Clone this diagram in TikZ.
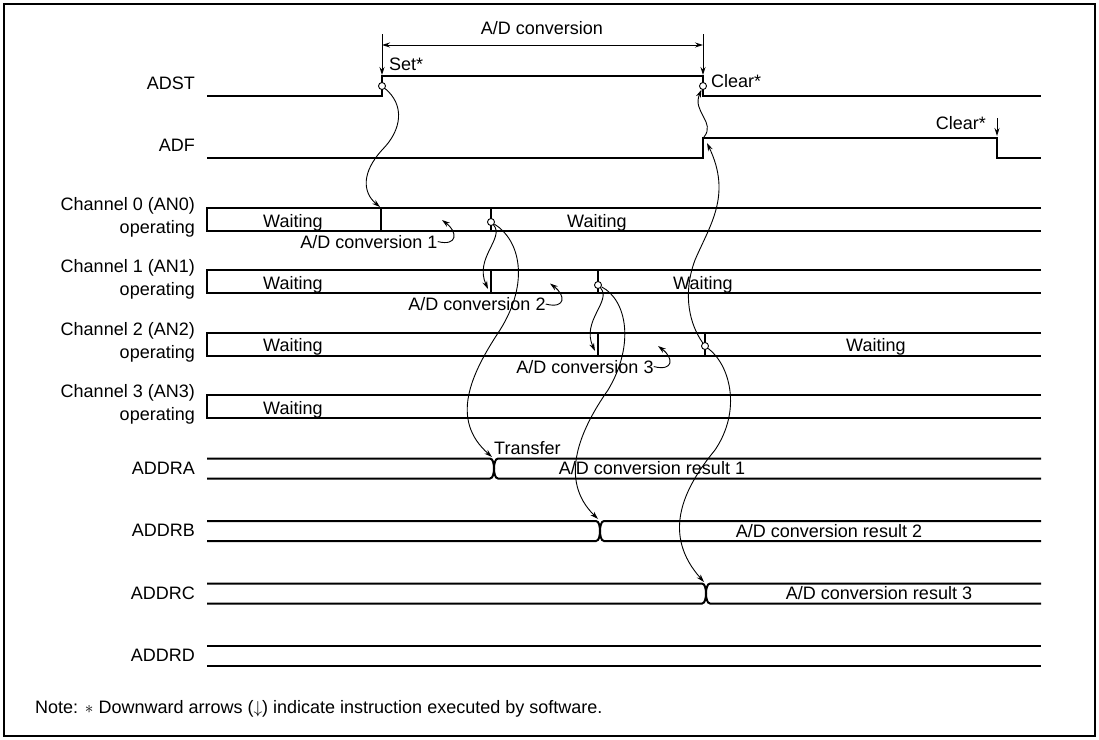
\documentclass[tikz,border=0pt]{standalone}
\usepackage{fontspec}
\setmainfont{Liberation Sans}
\usetikzlibrary{arrows.meta}

\begin{document}
\begin{tikzpicture}[x=1pt,y=-1pt,
  font=\fontsize{18}{23}\selectfont,
  wave/.style={line width=2pt},
  hair/.style={line width=0.9pt},
  ar/.style={hair,-{Stealth[length=8pt,width=5pt]}},
  dim/.style={hair,{Stealth[length=8pt,width=5pt]}-{Stealth[length=8pt,width=5pt]}},
  dot/.style={circle,draw,fill=white,line width=0.9pt,inner sep=0pt,minimum size=7pt},
  siglbl/.style={anchor=base east,inner sep=0pt},
  chlbl/.style={anchor=east,align=right,inner sep=0pt},
  txt/.style={anchor=base west,inner sep=0pt},
  ctxt/.style={anchor=base,inner sep=0pt}]

\useasboundingbox (0,0) rectangle (1099,739);
\draw[line width=1.6pt] (4,4) rectangle (1095,736);

% signal names
\node[siglbl] (lADST) at (195,89) {ADST};
\node[siglbl] (lADF) at (195,151) {ADF};
\foreach \i/\y in {0/217.5,1/279.5,2/342,3/404.5}
  \node[chlbl] (lch\i) at (195,\y) {Channel \i{} (AN\i)\\operating};
\foreach \n/\y in {A/474,B/536.5,C/599,D/661.5}
  \node[siglbl] (lADDR\n) at (195,\y) {ADDR\n};

% ADST, ADF
\draw[wave] (207,96) -- (382,96) -- (382,76) -- (703,76) -- (703,96) -- (1041,96);
\draw[wave] (207,158) -- (703,158) -- (703,138) -- (997,138) -- (997,158) -- (1041,158);

% channel lanes
\foreach \t in {208,270,333,395}
  \draw[wave] (1041,\t) -- (207,\t) -- (207,\t+23) -- (1041,\t+23);
\foreach \x/\t in {381/208,491/208,491/270,598/270,598/333,705/333}
  \draw[wave] (\x,\t) -- (\x,\t+23);

% data registers
\foreach \x/\t in {494/458.5,600/521,706/583.5}{
  \draw[wave] (207,\t) -- (\x-4,\t) .. controls (\x-1,\t) and (\x,\t+6) .. (\x,\t+10)
    .. controls (\x,\t+14) and (\x-1,\t+20) .. (\x-4,\t+20) -- (207,\t+20);
  \draw[wave] (1041,\t) -- (\x+4,\t) .. controls (\x+1,\t) and (\x,\t+6) .. (\x,\t+10)
    .. controls (\x,\t+14) and (\x+1,\t+20) .. (\x+4,\t+20) -- (1041,\t+20);
}
\draw[wave] (207,646) -- (1041,646) (207,666) -- (1041,666);

% software arrows
\coordinate (setTop) at (382,34);
\coordinate (setTip) at (382,75);
\coordinate (clrTop) at (703,34);
\coordinate (clrTip) at (703,75);
\coordinate (dimL) at (382,45);
\coordinate (dimR) at (703,45);
\coordinate (adfTop) at (997,118);
\coordinate (adfTip) at (997,136);
\draw[ar] (setTop) -- (setTip);
\draw[ar] (clrTop) -- (clrTip);
\draw[dim] (dimL) -- (dimR);
\draw[ar] (adfTop) -- (adfTip);

\node[ctxt] (adc) at (542,34) {A/D conversion};
\node[txt] (setLbl) at (389,70) {Set*};
\node[txt] (clrLbl) at (711,87) {Clear*};
\node[anchor=base east,inner sep=0pt] (clr2Lbl) at (986,129) {Clear*};

% lane texts
\foreach \x/\b [count=\k] in {263/227,263/289,263/351.5,263/414,567/227,673/289,846/351.5}
  \node[txt] (wait\k) at (\x,\b) {Waiting};
\node[ctxt] (conv1) at (369,248) {A/D conversion 1};
\node[ctxt] (conv2) at (477,310.5) {A/D conversion 2};
\node[ctxt] (conv3) at (585,373) {A/D conversion 3};
\node[txt] (xfer) at (494,454) {Transfer};
\node[ctxt] (res1) at (652,474.5) {A/D conversion result 1};
\node[ctxt] (res2) at (829,537) {A/D conversion result 2};
\node[ctxt] (res3) at (879,599.5) {A/D conversion result 3};

% event points
\node[dot] (set) at (382,86) {};
\node[dot] (clr) at (703,86) {};
\node[dot] (end0) at (491,222) {};
\node[dot] (end1) at (598,285) {};
\node[dot] (end2) at (705,346) {};

\coordinate (go0) at (380,207);
\coordinate (go1) at (488,289);
\coordinate (go2) at (595,351);
\coordinate (adfIn) at (707,143);
\coordinate (adfOut) at (704,137);
\coordinate (xa) at (492,457);
\coordinate (xb) at (598,519);
\coordinate (xc) at (704,582);
\coordinate (hook1) at (442,220);
\coordinate (hook2) at (550,283.5);
\coordinate (hook3) at (658,346);

\draw[ar] (set) .. controls (405,105) and (402,130) .. (382,150)
  .. controls (362,172) and (362,192) .. (go0);
\draw[ar] (end0) .. controls (505,238) and (474,258) .. (go1);
\draw[ar] (end0) .. controls (520,240) and (530,282) .. (500,330)
  .. controls (470,375) and (450,420) .. (xa);
\draw[ar] (end1) .. controls (612,301) and (581,321) .. (go2);
\draw[ar] (end1) .. controls (627,300) and (635,345) .. (608,390)
  .. controls (580,430) and (558,480) .. (xb);
\draw[ar] (end2) .. controls (730,365) and (742,410) .. (715,450)
  .. controls (682,490) and (662,535) .. (xc);
\draw[ar] (end2) .. controls (690,325) and (682,295) .. (695,260)
  .. controls (710,225) and (732,195) .. (adfIn);
\draw[ar] (adfOut) .. controls (716,122) and (692,112) .. (clr);
\foreach \k in {1,2,3}
  \draw[ar] (conv\k.east) .. controls +(20,5) and +(16,12) .. (hook\k);

\node[txt] (note) at (35,713) {Note: $\ast$ Downward arrows ($\downarrow$) indicate instruction executed by software.};
\end{tikzpicture}
\end{document}
